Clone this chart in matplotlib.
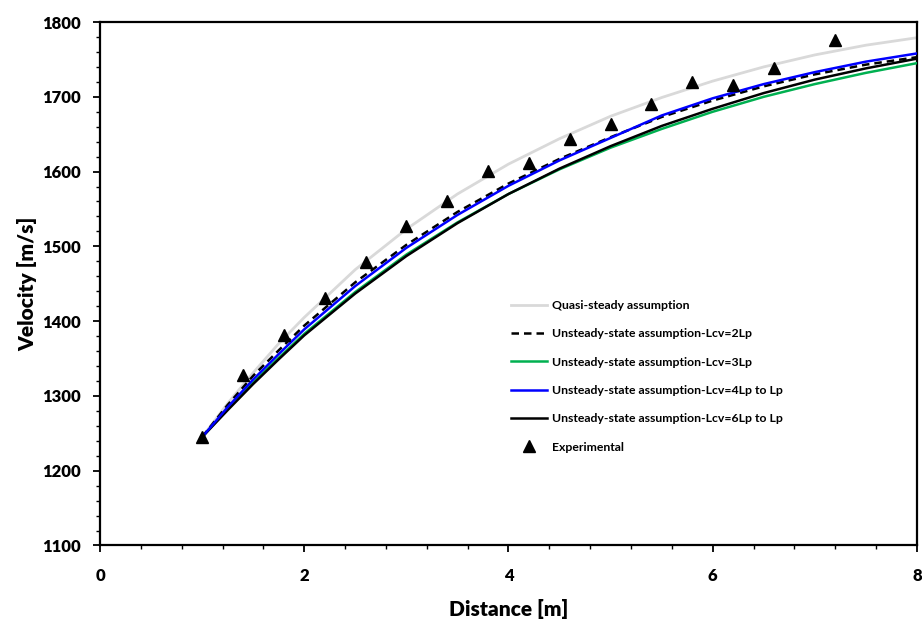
import matplotlib
matplotlib.use("Agg")
import matplotlib.pyplot as plt
from matplotlib.ticker import MultipleLocator

plt.rcParams['font.family'] = ['Lato', 'DejaVu Sans']
plt.rcParams['font.weight'] = 'bold'

# curves
dist = [1.0, 1.25, 1.5, 1.75, 2.0, 2.5, 3.0, 3.5, 4.0, 4.5, 5.0, 5.5, 6.0, 6.5, 7.0, 7.5, 8.0]
v_quasi = [1245, 1290, 1331, 1370, 1405, 1469, 1523, 1570, 1610, 1644, 1674, 1699, 1721, 1740, 1756, 1769, 1779]
v_2lp = [1245, 1288, 1327, 1361, 1394, 1452, 1502, 1546, 1584, 1617, 1646, 1673, 1695, 1714, 1730, 1743, 1753]
v_3lp = [1245, 1283, 1318, 1351, 1383, 1439, 1489, 1532, 1570, 1603, 1632, 1657, 1680, 1700, 1717, 1732, 1745]
v_4lp = [1245, 1285, 1322, 1356, 1389, 1447, 1498, 1542, 1581, 1615, 1645, 1675, 1698, 1717, 1733, 1747, 1758]
v_6lp = [1245, 1281, 1316, 1349, 1381, 1437, 1487, 1531, 1570, 1604, 1634, 1661, 1684, 1705, 1723, 1738, 1751]

# experimental points
exp_x = [1.0, 1.4, 1.8, 2.2, 2.6, 3.0, 3.4, 3.8, 4.2, 4.6, 5.0, 5.4, 5.8, 6.2, 6.6, 7.2]
exp_v = [1245, 1328, 1381, 1431, 1479, 1527, 1560, 1601, 1611, 1643, 1663, 1691, 1720, 1716, 1739, 1776]

fig = plt.figure(figsize=(9.22, 6.22), dpi=100)
ax = fig.add_axes([0.1085, 0.123, 0.886, 0.8416])

ax.plot(dist, v_quasi, color='#d9d9d9', lw=2.0, label='Quasi-steady assumption', zorder=2)
ax.plot(dist, v_2lp, color='black', lw=1.8, ls=(0, (3, 2)), label='Unsteady-state assumption-Lcv=2Lp', zorder=4)
ax.plot(dist, v_3lp, color='#00b050', lw=1.8, label='Unsteady-state assumption-Lcv=3Lp', zorder=3)
ax.plot(dist, v_4lp, color='#0000ff', lw=1.8, label='Unsteady-state assumption-Lcv=4Lp to Lp', zorder=5)
ax.plot(dist, v_6lp, color='black', lw=1.8, label='Unsteady-state assumption-Lcv=6Lp to Lp', zorder=3.5)
ax.plot(exp_x, exp_v, ls='none', marker='^', color='black', ms=8, label='Experimental', zorder=6)

ax.set_xlim(0, 8)
ax.set_ylim(1100, 1800)
ax.xaxis.set_major_locator(MultipleLocator(2))
ax.xaxis.set_minor_locator(MultipleLocator(0.4))
ax.yaxis.set_major_locator(MultipleLocator(100))
ax.yaxis.set_minor_locator(MultipleLocator(20))
ax.tick_params(which='major', direction='out', length=5, width=1.3, labelsize=12)
ax.tick_params(which='minor', direction='out', length=3, width=1.0)
ax.tick_params(axis='x', which='major', pad=11)
ax.tick_params(axis='y', which='major', pad=9)
for lab in ax.get_xticklabels() + ax.get_yticklabels():
    lab.set_fontweight('heavy')
for sp in ax.spines.values():
    sp.set_linewidth(1.6)

ax.set_xlabel('Distance [m]', fontsize=15, fontweight='heavy', labelpad=11)
ax.set_ylabel('Velocity [m/s]', fontsize=15, fontweight='heavy', labelpad=3)

ax.legend(loc='upper left', bbox_to_anchor=(0.49, 0.49), frameon=False,
          prop={'size': 8.8, 'weight': 'bold'}, handlelength=2.9, labelspacing=1.42,
          handletextpad=0.4)

fig.savefig('out.png', dpi=100)
